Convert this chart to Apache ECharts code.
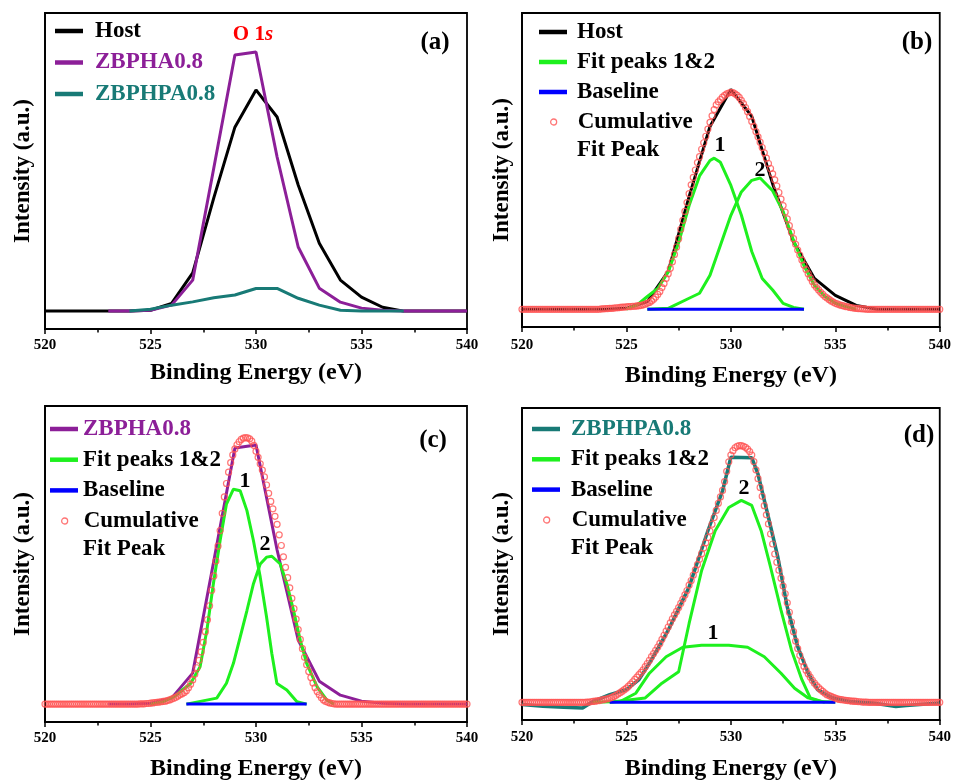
<!DOCTYPE html>
<html><head><meta charset="utf-8">
<script src="https://cdn.jsdelivr.net/npm/echarts@6/dist/echarts.min.js"></script>
<style>html,body{margin:0;padding:0;background:#fff}#c{width:954px;height:782px}</style>
</head><body><div id="c"></div>
<script>
// ---------- data (binding energy in eV, intensity in arbitrary units) ----------
const HOST_E = [520,521,522,523,524,525,526,527,528,529,530,531,532,533,534,535,536,537,538,539,540];
const HOST   = [0,0,0,0,0,0.003,0.026,0.128,0.38,0.617,0.742,0.651,0.423,0.228,0.104,0.047,0.013,0,0,0,0];
const ZBPHA_E = [523,524,525,526,527,528,529,530,531,532,533,534,535,536,537,538,539,540];
const ZBPHA   = [0,0,0.003,0.02,0.104,0.48,0.859,0.869,0.517,0.215,0.077,0.03,0.01,0.003,0,0,0,0];
const ZBPHPA_E = [524,525,526,527,528,529,530,531,532,533,534,535,536,537];
const ZBPHPA   = [0,0.006,0.02,0.031,0.045,0.054,0.076,0.076,0.043,0.02,0.003,0,0,0];

// panel (d) scaled ZBPHPA0.8 spectrum
const ZBPHPA_D_E = [520,521,522,522.9,523.4,524.2,525,525.6,526.2,527,528,528.9,529.6,530,531,531.3,531.8,532.25,532.7,533.2,533.7,534.15,534.9,535.7,536.8,537.9,538.4,540];
const ZBPHPA_D   = [-0.007,-0.013,-0.017,-0.019,0.003,0.026,0.043,0.077,0.144,0.245,0.392,0.583,0.718,0.833,0.831,0.775,0.628,0.493,0.324,0.189,0.099,0.043,0.015,0.003,-0.002,-0.014,-0.011,-0.002];

// fit peaks
const P1B_E = [525,525.5,526,526.5,527,527.5,528,528.5,529,529.2,529.5,530,530.5,531,531.5,532,532.5,533,533.5];
const P1B   = [0,0.014,0.043,0.07,0.126,0.225,0.35,0.45,0.502,0.51,0.496,0.418,0.318,0.195,0.104,0.065,0.02,0.006,0];
const P2B_E = [526,527,528,528.5,529,529.5,530,530.5,531,531.4,532,532.5,533,533.5,534,534.5,535,535.5,536];
const P2B   = [0,0.003,0.037,0.054,0.115,0.216,0.317,0.396,0.435,0.443,0.40,0.33,0.232,0.147,0.081,0.043,0.02,0.009,0];
const P1C_E = [525,525.6,526.1,526.9,527.35,527.67,527.98,528.3,528.6,528.93,529.25,529.57,529.88,530.2,530.5,530.75,530.99,531.46,531.94,532.4];
const P1C   = [0,0.008,0.024,0.069,0.125,0.247,0.404,0.549,0.671,0.721,0.716,0.649,0.548,0.426,0.292,0.17,0.069,0.047,0.008,0];
const P2C_E = [526.7,528.14,528.6,528.93,529.25,529.57,529.88,530.2,530.5,530.75,531.15,531.46,531.78,532.1,532.4,532.9,533.36,533.7];
const P2C   = [0,0.02,0.07,0.137,0.225,0.314,0.404,0.47,0.493,0.496,0.47,0.404,0.314,0.214,0.137,0.058,0.013,0];
const P1D_E = [523.4,524.7,525.45,526.1,526.9,527.7,528.6,529.9,530.8,531.6,532.4,533.05,533.7,534.3,535];
const P1D   = [0,0.003,0.031,0.099,0.155,0.187,0.194,0.194,0.187,0.155,0.099,0.048,0.015,0.003,0];
const P2D_E = [524.2,525.9,526.7,527.5,528,528.6,529.25,529.9,530.5,531,531.45,531.9,532.4,532.9,533.4,533.8,534.5];
const P2D   = [0,0.015,0.065,0.104,0.268,0.448,0.583,0.662,0.686,0.669,0.583,0.459,0.313,0.178,0.077,0.015,0];

// baselines (start / end energy)
const BASE_B = [526, 533.5];
const BASE_C = [526.7, 532.4];
const BASE_D = [524.2, 535];

// cumulative fit peaks sampled every 0.1 eV from 520.0 to 540.0
const CUM_START = 520, CUM_STEP = 0.1;
const CUM_B = [
0,0,0,0,0,0,0,0,0,0,
0,0,0,0,0,0,0,0,0,0,
0,0,0,0,0,0,0,0,0,0,
0,0,0,0,0,0,0,0,0.001,0.001,
0.002,0.002,0.003,0.003,0.004,0.005,0.005,0.006,0.007,0.007,
0.008,0.009,0.009,0.01,0.01,0.011,0.012,0.013,0.015,0.017,
0.02,0.023,0.028,0.034,0.041,0.05,0.06,0.073,0.087,0.104,
0.12,0.138,0.16,0.185,0.21,0.238,0.27,0.30,0.33,0.36,
0.39,0.42,0.445,0.47,0.495,0.515,0.54,0.562,0.584,0.608,
0.631,0.653,0.674,0.69,0.70,0.708,0.716,0.722,0.727,0.73,
0.732,0.731,0.727,0.722,0.715,0.705,0.694,0.681,0.667,0.651,
0.634,0.617,0.60,0.582,0.564,0.546,0.528,0.51,0.492,0.475,
0.457,0.437,0.416,0.394,0.372,0.35,0.328,0.305,0.282,0.26,
0.238,0.219,0.2,0.183,0.166,0.149,0.134,0.12,0.106,0.094,
0.082,0.073,0.065,0.057,0.05,0.043,0.038,0.033,0.028,0.024,
0.02,0.018,0.015,0.013,0.011,0.009,0.008,0.006,0.005,0.004,
0.003,0.002,0.002,0.001,0.001,0,0,0,0,0,
0,0,0,0,0,0,0,0,0,0,
0,0,0,0,0,0,0,0,0,0,
0,0,0,0,0,0,0,0,0,0,
0];
const CUM_C = [
0,0,0,0,0,0,0,0,0,0,
0,0,0,0,0,0,0,0,0,0,
0,0,0,0,0,0,0,0,0,0,
0,0,0,0,0,0,0,0,0,0,
0,0,0,0,0,0.001,0.001,0.001,0.002,0.002,
0.003,0.004,0.005,0.006,0.007,0.008,0.009,0.01,0.012,0.014,
0.017,0.02,0.023,0.027,0.031,0.035,0.039,0.045,0.055,0.067,
0.081,0.1,0.122,0.147,0.175,0.207,0.243,0.283,0.33,0.382,
0.43,0.48,0.53,0.582,0.64,0.695,0.74,0.778,0.81,0.836,
0.856,0.87,0.88,0.888,0.892,0.894,0.893,0.89,0.882,0.868,
0.848,0.828,0.806,0.785,0.762,0.735,0.707,0.68,0.655,0.63,
0.603,0.568,0.532,0.494,0.459,0.424,0.39,0.355,0.32,0.285,
0.25,0.217,0.186,0.157,0.132,0.109,0.089,0.071,0.055,0.042,
0.031,0.021,0.014,0.009,0.006,0.004,0.002,0.001,0,0,
0,0,0,0,0,0,0,0,0,0,
0,0,0,0,0,0,0,0,0,0,
0,0,0,0,0,0,0,0,0,0,
0,0,0,0,0,0,0,0,0,0,
0,0,0,0,0,0,0,0,0,0,
0,0,0,0,0,0,0,0,0,0,
0];
const CUM_D = [
0,0,0,0,0,0,0,0,0,0,
0,0,0,0,0,0,0,0,0,0,
0,0,0,0,0,0,0,0,0,0,
0,0.001,0.001,0.002,0.003,0.004,0.005,0.006,0.008,0.009,
0.011,0.012,0.014,0.017,0.02,0.024,0.028,0.033,0.038,0.043,
0.048,0.055,0.062,0.07,0.078,0.086,0.094,0.102,0.11,0.121,
0.132,0.143,0.155,0.166,0.177,0.188,0.2,0.214,0.228,0.242,
0.256,0.27,0.284,0.297,0.309,0.322,0.336,0.35,0.365,0.38,
0.398,0.414,0.432,0.45,0.468,0.486,0.505,0.524,0.542,0.56,
0.582,0.605,0.628,0.652,0.676,0.698,0.72,0.75,0.785,0.817,
0.84,0.855,0.865,0.87,0.872,0.872,0.87,0.866,0.86,0.852,
0.84,0.818,0.79,0.76,0.73,0.70,0.668,0.637,0.606,0.572,
0.538,0.504,0.476,0.449,0.422,0.395,0.369,0.338,0.306,0.273,
0.24,0.208,0.183,0.16,0.14,0.122,0.109,0.097,0.086,0.075,
0.065,0.057,0.05,0.043,0.037,0.031,0.026,0.023,0.02,0.017,
0.014,0.012,0.01,0.009,0.008,0.007,0.006,0.005,0.004,0.004,
0.003,0.002,0.002,0.001,0.001,0.001,0,0,0,0,
0,0,0,0,0,0,0,0,0,0,
0,0,0,0,0,0,0,0,0,0,
0,0,0,0,0,0,0,0,0,0,
0];

// ---------- styling ----------
const FONT = '"Liberation Serif", "Times New Roman", serif';
const C_HOST = '#000000', C_ZBPHA = '#8c1f98', C_ZBPHPA = '#187a76', C_FIT = '#1ef01e', C_BASE = '#0000ff', C_CUM = '#ff5252';

const GRIDS = [
  {left: 45,  top: 13,  width: 422, height: 316},
  {left: 522, top: 13,  width: 422, height: 314},
  {left: 45,  top: 406, width: 422, height: 317},
  {left: 522, top: 408, width: 422, height: 315}
];
const X_NAME_GAP = [32, 37, 35, 37];
const X_LABEL_MARGIN = [9, 11, 9, 10];
const Y_NAME_GAP = [10, 8, 10, 8];

const pairs = (xs, ys) => xs.map((x, k) => [x, ys[k]]);
const cumPairs = ys => ys.map((y, k) => [Math.round((CUM_START + k * CUM_STEP) * 10) / 10, y]);

function line(name, xs, ys, color, gi, z, width) {
  return {type: 'line', name, xAxisIndex: gi, yAxisIndex: gi, data: pairs(xs, ys),
    showSymbol: false, symbol: 'none', z: z, silent: true,
    lineStyle: {color, width: width || 3}, itemStyle: {color}};
}
function circles(name, ys, gi) {
  return {type: 'scatter', name, xAxisIndex: gi, yAxisIndex: gi, data: cumPairs(ys),
    symbol: 'circle', symbolSize: 6, z: 6, silent: true,
    itemStyle: {color: 'rgba(255,255,255,0)', borderColor: C_CUM, borderWidth: 1.2}};
}

const series = [
  // (a)
  line('Host', HOST_E, HOST, C_HOST, 0, 2),
  line('ZBPHA0.8', ZBPHA_E, ZBPHA, C_ZBPHA, 0, 3),
  line('ZBPHPA0.8', ZBPHPA_E, ZBPHPA, C_ZBPHPA, 0, 4),
  // (b)
  line('Host', HOST_E, HOST, C_HOST, 1, 2),
  line('Fit peaks 1&2', P1B_E, P1B, C_FIT, 1, 3),
  line('Fit peaks 1&2', P2B_E, P2B, C_FIT, 1, 3),
  line('Baseline', BASE_B, [0, 0], C_BASE, 1, 4),
  circles('Cumulative Fit Peak', CUM_B, 1),
  // (c)
  line('ZBPHA0.8', ZBPHA_E, ZBPHA, C_ZBPHA, 2, 2),
  line('Fit peaks 1&2', P1C_E, P1C, C_FIT, 2, 3),
  line('Fit peaks 1&2', P2C_E, P2C, C_FIT, 2, 3),
  line('Baseline', BASE_C, [0, 0], C_BASE, 2, 4),
  circles('Cumulative Fit Peak', CUM_C, 2),
  // (d)
  line('ZBPHPA0.8', ZBPHPA_D_E, ZBPHPA_D, C_ZBPHPA, 3, 2, 3.5),
  line('Fit peaks 1&2', P1D_E, P1D, C_FIT, 3, 3),
  line('Fit peaks 1&2', P2D_E, P2D, C_FIT, 3, 3),
  line('Baseline', BASE_D, [0, 0], C_BASE, 3, 4),
  circles('Cumulative Fit Peak', CUM_D, 3)
];

const boldText = (size, color) => ({fontFamily: FONT, fontWeight: 'bold', fontSize: size, color: color || '#000'});

const xAxes = GRIDS.map((g, i) => ({
  type: 'value', gridIndex: i, min: 520, max: 540, interval: 5,
  axisLine: {show: true, onZero: false, lineStyle: {color: '#000', width: 1.8}},
  axisTick: {show: true, length: 5, lineStyle: {color: '#000', width: 1.5}},
  minorTick: {show: true, splitNumber: 2, length: 3.5, lineStyle: {color: '#000', width: 1.5}},
  splitLine: {show: false}, minorSplitLine: {show: false},
  axisLabel: Object.assign({show: true, margin: X_LABEL_MARGIN[i], showMinLabel: true, showMaxLabel: true, hideOverlap: false}, boldText(15)),
  name: 'Binding Energy (eV)', nameLocation: 'middle', nameGap: X_NAME_GAP[i],
  nameTextStyle: boldText(24)
}));
const yAxes = GRIDS.map((g, i) => ({
  type: 'value', gridIndex: i, min: -0.06, max: 1.0,
  axisLine: {show: true, onZero: false, lineStyle: {color: '#000', width: 1.8}},
  axisTick: {show: false}, axisLabel: {show: false}, splitLine: {show: false},
  name: 'Intensity (a.u.)', nameLocation: 'middle', nameGap: Y_NAME_GAP[i],
  nameTextStyle: boldText(23)
}));

function lineLegend(left, top, gap, pad, items) {
  return {orient: 'vertical', left, top, padding: 0, itemWidth: 28, itemHeight: 4.5, itemGap: gap,
    icon: 'rect', selectedMode: false,
    textStyle: Object.assign({lineHeight: 23, padding: [0, 0, 0, pad]}, boldText(23)),
    data: items.map(([name, color, textColor]) => ({name, icon: 'rect',
      itemStyle: {color, borderWidth: 0}, textStyle: {color: textColor}}))};
}
// the circle icon is 6 px wide and sits in the middle of the 28 px sample slot
function cumLegend(left, top, pad) {
  return {orient: 'vertical', left: left + 11, top, padding: 0, itemWidth: 6, itemHeight: 6,
    icon: 'circle', selectedMode: false,
    formatter: () => 'Cumulative',
    textStyle: Object.assign({lineHeight: 23, padding: [0, 0, 0, pad + 11]}, boldText(23)),
    data: [{name: 'Cumulative Fit Peak', icon: 'circle',
      itemStyle: {color: 'rgba(255,255,255,0)', borderColor: C_CUM, borderWidth: 1.3}}]};
}

const legends = [
  lineLegend(55, 19.5, 8.5, 7, [['Host', C_HOST, '#000'], ['ZBPHA0.8', C_ZBPHA, C_ZBPHA], ['ZBPHPA0.8', C_ZBPHPA, C_ZBPHPA]]),
  lineLegend(539, 20.5, 7, 5, [['Host', C_HOST, '#000'], ['Fit peaks 1&2', C_FIT, '#000'], ['Baseline', C_BASE, '#000']]),
  cumLegend(539, 110.5, 5),
  lineLegend(50, 417.5, 7.7, 0, [['ZBPHA0.8', C_ZBPHA, C_ZBPHA], ['Fit peaks 1&2', C_FIT, '#000'], ['Baseline', C_BASE, '#000']]),
  cumLegend(50, 509.5, 0),
  lineLegend(532, 417.5, 7.3, 6, [['ZBPHPA0.8', C_ZBPHPA, C_ZBPHPA], ['Fit peaks 1&2', C_FIT, '#000'], ['Baseline', C_BASE, '#000']]),
  cumLegend(532, 508.5, 6)
];

const txt = (x, y, text, size, color, align) => ({type: 'text', x, y, z: 10, silent: true,
  style: {text, fontFamily: FONT, fontWeight: 'bold', fontSize: size, fill: color || '#000', align: align || 'center', verticalAlign: 'middle'}});

const graphics = [
  txt(435, 43, '(a)', 25), txt(917, 43, '(b)', 25), txt(433, 441, '(c)', 25), txt(919, 436, '(d)', 25),
  {type: 'text', x: 253, y: 35, z: 10, silent: true,
    style: {text: '{a|O 1}{b|s}', align: 'center', verticalAlign: 'middle',
      rich: {a: {fontFamily: FONT, fontWeight: 'bold', fontSize: 21, fill: '#ff0000'},
             b: {fontFamily: FONT, fontWeight: 'bold', fontStyle: 'italic', fontSize: 21, fill: '#ff0000'}}}},
  // second line of the "Cumulative Fit Peak" legend entries
  txt(577, 150, 'Fit Peak', 23, '#000', 'left'),
  txt(83, 549, 'Fit Peak', 23, '#000', 'left'),
  txt(571, 548, 'Fit Peak', 23, '#000', 'left'),
  // fit-peak numbers
  txt(720, 145, '1', 22), txt(760, 170, '2', 22),
  txt(245, 481, '1', 22), txt(265, 544, '2', 22),
  txt(744, 488, '2', 22), txt(713, 633, '1', 22)
];

const chart = echarts.init(document.getElementById('c'), null, {renderer: 'canvas'});
chart.setOption({
  animation: false,
  backgroundColor: '#fff',
  grid: GRIDS.map(g => Object.assign({show: true, borderColor: '#000', borderWidth: 1.8, backgroundColor: 'transparent', containLabel: false}, g)),
  xAxis: xAxes,
  yAxis: yAxes,
  legend: legends,
  graphic: graphics,
  series
});
</script>
</body></html>
